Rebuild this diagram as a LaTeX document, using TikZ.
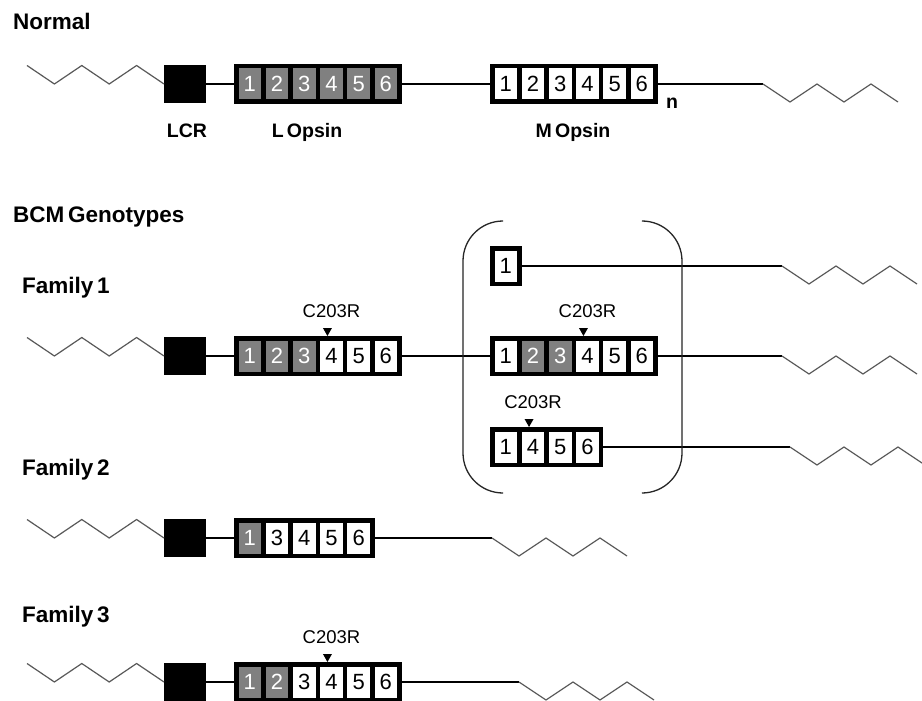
\documentclass[tikz,border=0pt]{standalone}
\usepackage{fontspec}
\setmainfont{Liberation Sans}[WordSpace=0.6]
\usetikzlibrary{positioning,calc}
\definecolor{exgrey}{RGB}{128,128,128}

\begin{document}
\begin{tikzpicture}[x=1pt,y=-1pt,
  ex/.style={draw,line width=4.5pt,outer sep=0pt,inner sep=0pt,minimum width=27.2pt,minimum height=35.5pt,fill=white,font=\fontsize{22}{26}\selectfont},
  exg/.style={ex,fill=exgrey,text=white},
  lcr/.style={fill=black,minimum width=42pt,minimum height=38pt,inner sep=0pt,outer sep=0pt},
  wire/.style={line width=1.3pt},
  zig/.style={line width=1.2pt,draw=black!65},
  bracket/.style={line width=1.3pt,draw=black!85,rounded corners=40pt},
  headlabel/.style={font=\fontsize{22.5}{26}\selectfont\bfseries,anchor=base west,inner sep=0pt},
  genelabel/.style={font=\fontsize{19.5}{23}\selectfont\bfseries,anchor=base,inner sep=0pt},
  mut/.style={font=\fontsize{18.5}{22}\selectfont,inner sep=0pt},
]
\path[use as bounding box,fill=white] (0,0) rectangle (922,701);

% headings
\node[headlabel] (normal) at (13,30) {Normal};
\node[headlabel] (bcm) at (13,222) {BCM Genotypes};
\node[headlabel] (fam1) at (22,293) {Family 1};
\node[headlabel] (fam2) at (22,475) {Family 2};
\node[headlabel] (fam3) at (22,622) {Family 3};

% normal array
\node[lcr] (a0) at (185,84) {};
\foreach \d in {1,...,6}
  \node[exg] (l\d) at ({236.25+(\d-0.5)*27.2},84) {\d};
\foreach \d in {1,...,6}
  \node[ex] (m\d) at ({492.25+(\d-0.5)*27.2},84) {\d};
\coordinate (z0) at (763,84);
\draw[zig] (a0.west) -- ++(-27.4,-18.5) -- ++(-27.4,18.5) -- ++(-27.4,-18.5) -- ++(-27.4,18.5) -- ++(-27.4,-18.5);
\draw[wire] (a0) -- (l1);
\draw[wire,line width=1.8pt] (l6) -- (m1);
\draw[wire] (m6) -- (z0);
\draw[zig] (z0) -- ++(27,18) -- ++(27,-18) -- ++(27,18) -- ++(27,-18) -- ++(27,18);
\node[genelabel] (lcrlab) at (187,137) {LCR};
\node[genelabel] (llab) at (307,137) {L Opsin};
\node[genelabel] (mlab) at (573,137) {M Opsin};
\node[genelabel] (nlab) at (672,109) {n};

% family 1
\node[lcr] (a1) at (185,356) {};
\foreach \d/\s in {1/exg,2/exg,3/exg,4/ex,5/ex,6/ex}
  \node[\s] (fl\d) at ({236.25+(\d-0.5)*27.2},356) {\d};
\foreach \d/\s in {1/ex,2/exg,3/exg,4/ex,5/ex,6/ex}
  \node[\s] (fm\d) at ({492.25+(\d-0.5)*27.2},356) {\d};
\node[ex] (ft1) at (505.85,266) {1};
\foreach \d/\p in {1/1,4/2,5/3,6/4}
  \node[ex] (fb\d) at ({492.25+(\p-0.5)*27.2},447) {\d};
\coordinate (zt) at (782,266);
\coordinate (zm) at (782,356);
\coordinate (zb) at (790,447);
\draw[zig] (a1.west) -- ++(-27.4,-18.5) -- ++(-27.4,18.5) -- ++(-27.4,-18.5) -- ++(-27.4,18.5) -- ++(-27.4,-18.5);
\draw[wire] (a1) -- (fl1);
\draw[wire] (fl6) -- (fm1);
\draw[wire] (ft1) -- (zt);
\draw[wire] (fm6) -- (zm);
\draw[wire] (fb6) -- (zb);
\draw[zig] (zt) -- ++(27,18) -- ++(27,-18) -- ++(27,18) -- ++(27,-18) -- ++(27,18);
\draw[zig] (zm) -- ++(27,18) -- ++(27,-18) -- ++(27,18) -- ++(27,-18) -- ++(27,18);
\draw[zig] (zb) -- ++(27,18) -- ++(27,-18) -- ++(27,18) -- ++(27,-18) -- ++(27,18);
\draw[bracket] (502,221) -| (463,493) -- (502,493);
\draw[bracket] (645,221) -| (682,493) -- (645,493);
% mutations
\fill ($(fl4.north)+(-4,-2.25)$) -- ++(-4.5,-8) -- ++(9,0) -- cycle;
\node[mut,above=20pt of fl4.north] (mut1) {C203R};
\fill ($(fm4.north)+(-4,-2.25)$) -- ++(-4.5,-8) -- ++(9,0) -- cycle;
\node[mut,above=20pt of fm4.north] (mut2) {C203R};
\fill ($(fb4.north)+(-4,-2.25)$) -- ++(-4.5,-8) -- ++(9,0) -- cycle;
\node[mut,above=20pt of fb4.north] (mut3) {C203R};

% family 2
\node[lcr] (a2) at (185,538) {};
\foreach \d/\s/\p in {1/exg/1,3/ex/2,4/ex/3,5/ex/4,6/ex/5}
  \node[\s] (s\d) at ({236.25+(\p-0.5)*27.2},538) {\d};
\coordinate (z2) at (492,538);
\draw[zig] (a2.west) -- ++(-27.4,-18.5) -- ++(-27.4,18.5) -- ++(-27.4,-18.5) -- ++(-27.4,18.5) -- ++(-27.4,-18.5);
\draw[wire] (a2) -- (s1);
\draw[wire] (s6) -- (z2);
\draw[zig] (z2) -- ++(27,18) -- ++(27,-18) -- ++(27,18) -- ++(27,-18) -- ++(27,18);

% family 3
\node[lcr] (a3) at (185,682) {};
\foreach \d/\s in {1/exg,2/exg,3/ex,4/ex,5/ex,6/ex}
  \node[\s] (t\d) at ({236.25+(\d-0.5)*27.2},682) {\d};
\coordinate (z3) at (519,682);
\draw[zig] (a3.west) -- ++(-27.4,-18.5) -- ++(-27.4,18.5) -- ++(-27.4,-18.5) -- ++(-27.4,18.5) -- ++(-27.4,-18.5);
\draw[wire] (a3) -- (t1);
\draw[wire] (t6) -- (z3);
\draw[zig] (z3) -- ++(27,18) -- ++(27,-18) -- ++(27,18) -- ++(27,-18) -- ++(27,18);
\fill ($(t4.north)+(-4,-2.25)$) -- ++(-4.5,-8) -- ++(9,0) -- cycle;
\node[mut,above=20pt of t4.north] (mut4) {C203R};
\end{tikzpicture}
\end{document}
